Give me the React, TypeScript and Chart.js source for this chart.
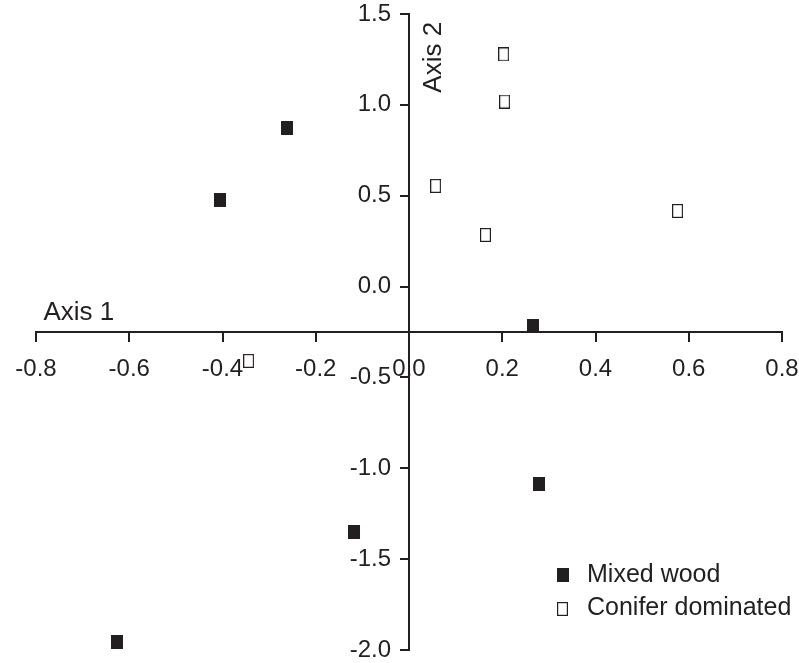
import React, { useEffect, useRef } from 'react';
import { Chart, registerables } from 'chart.js';

Chart.register(...registerables);

// ---- data ----
const seriesNames = ['Mixed wood', 'Conifer dominated'];
const mixedX = [-0.261, -0.405, 0.266, 0.278, -0.117, -0.626];
const mixedY = [0.872, 0.476, -0.217, -1.086, -1.349, -1.956];
const coniferX = [0.203, 0.205, 0.057, 0.164, 0.576, -0.344];
const coniferY = [1.278, 1.018, 0.554, 0.284, 0.416, -0.409];
const xRange = [-0.8, 0.8];
const yRange = [-2.0, 1.5];
const xStep = 0.2;
const yStep = 0.5;
const xAxisCrossing = -0.25;
const axisTitles = ['Axis 1', 'Axis 2'];

const INK = '#231f20';
const FONT = '"Liberation Sans", Arial, Helvetica, sans-serif';

function makeMarker(filled: boolean): HTMLCanvasElement {
  const c = document.createElement('canvas');
  const w = filled ? 12 : 11;
  const h = 14;
  c.width = w;
  c.height = h;
  const g = c.getContext('2d')!;
  if (filled) {
    g.fillStyle = INK;
    g.fillRect(0, 0, w, h);
  } else {
    g.fillStyle = '#ffffff';
    g.fillRect(0, 0, w, h);
    g.strokeStyle = INK;
    g.lineWidth = 1.2;
    g.strokeRect(0.6, 0.6, w - 1.2, h - 1.2);
  }
  return c;
}

function zeroPadding(s: any) {
  s.paddingLeft = 0;
  s.paddingRight = 0;
  s.paddingTop = 0;
  s.paddingBottom = 0;
}

export default function App() {
  const ref = useRef<HTMLCanvasElement | null>(null);

  useEffect(() => {
    const canvas = ref.current;
    if (!canvas) return;
    const markers = [makeMarker(true), makeMarker(false)];

    const overlay = {
      id: 'overlay',
      afterDraw(chart: any) {
        const ctx = chart.ctx as CanvasRenderingContext2D;
        const xs = chart.scales.x;
        const ys = chart.scales.y;
        const area = chart.chartArea;
        ctx.save();
        ctx.fillStyle = INK;
        ctx.textAlign = 'left';
        ctx.textBaseline = 'alphabetic';
        ctx.font = `26px ${FONT}`;
        const axisY = ys.getPixelForValue(xAxisCrossing);
        ctx.fillText(axisTitles[0], xs.left + 7.5, axisY - 11.7);
        const axisX = xs.getPixelForValue(0);
        ctx.save();
        ctx.translate(axisX + 31.7, ys.top + 78.7);
        ctx.rotate(-Math.PI / 2);
        ctx.fillText(axisTitles[1], 0, 0);
        ctx.restore();

        // legend
        ctx.font = `25px ${FONT}`;
        const baselines = [area.bottom - 68.3, area.bottom - 35];
        seriesNames.forEach((name, i) => {
          const m = markers[i];
          const cx = area.right - 219.5;
          const cy = baselines[i] - 7;
          ctx.drawImage(m, Math.round(cx - m.width / 2), Math.round(cy - m.height / 2 + 0.5));
          ctx.fillText(name, area.right - 195, baselines[i]);
        });
        ctx.restore();
      },
    };

    const tickFont = { size: 24, family: FONT };

    const chart = new Chart(canvas, {
      type: 'scatter',
      data: {
        datasets: [
          {
            label: seriesNames[0],
            data: mixedX.map((x, i) => ({ x, y: mixedY[i] })),
            pointStyle: markers[0] as any,
            pointRadius: 7,
            backgroundColor: INK,
            borderColor: INK,
          },
          {
            label: seriesNames[1],
            data: coniferX.map((x, i) => ({ x, y: coniferY[i] })),
            pointStyle: markers[1] as any,
            pointRadius: 7,
            backgroundColor: '#ffffff',
            borderColor: INK,
          },
        ],
      },
      options: {
        responsive: false,
        animation: false,
        devicePixelRatio: 1,
        layout: { padding: { left: 36, right: 17, top: 14, bottom: 13 } },
        plugins: {
          legend: { display: false },
          tooltip: { enabled: false },
        },
        scales: {
          x: {
            type: 'linear',
            min: xRange[0],
            max: xRange[1],
            position: { y: xAxisCrossing } as any,
            afterFit: (s: any) => {
              s.height = 0;
              zeroPadding(s);
            },
            ticks: {
              stepSize: xStep,
              autoSkip: false,
              maxRotation: 0,
              padding: 14,
              color: INK,
              font: tickFont,
              callback: (v: any) => Number(v).toFixed(1),
            },
            grid: {
              drawOnChartArea: false,
              drawTicks: true,
              tickLength: 9,
              color: INK,
              lineWidth: 2,
            },
            border: { display: true, color: INK, width: 2 },
          },
          y: {
            type: 'linear',
            min: yRange[0],
            max: yRange[1],
            position: { x: 0 } as any,
            afterFit: (s: any) => {
              s.width = 0;
              zeroPadding(s);
            },
            afterUpdate: (s: any) => {
              const orig = s._computeLabelItems.bind(s);
              s._computeLabelItems = (ca: any) => {
                const items = orig(ca);
                items.forEach((it: any) => {
                  const tr = it.options.translation;
                  it.options.translation = [tr[0] - 18, tr[1]];
                });
                return items;
              };
              s._labelItems = null;
            },
            ticks: {
              stepSize: yStep,
              autoSkip: false,
              padding: 10,
              color: INK,
              font: tickFont,
              callback: (v: any) => Number(v).toFixed(1),
            },
            grid: {
              drawOnChartArea: false,
              drawTicks: true,
              tickLength: 8,
              color: INK,
              lineWidth: 2,
            },
            border: { display: true, color: INK, width: 2 },
          },
        },
      },
      plugins: [overlay],
    });

    return () => {
      chart.destroy();
    };
  }, []);

  return (
    <div style={{ position: 'fixed', left: 0, top: 0, width: 799, height: 663, background: '#ffffff' }}>
      <canvas ref={ref} width={799} height={663} style={{ display: 'block' }} />
    </div>
  );
}
